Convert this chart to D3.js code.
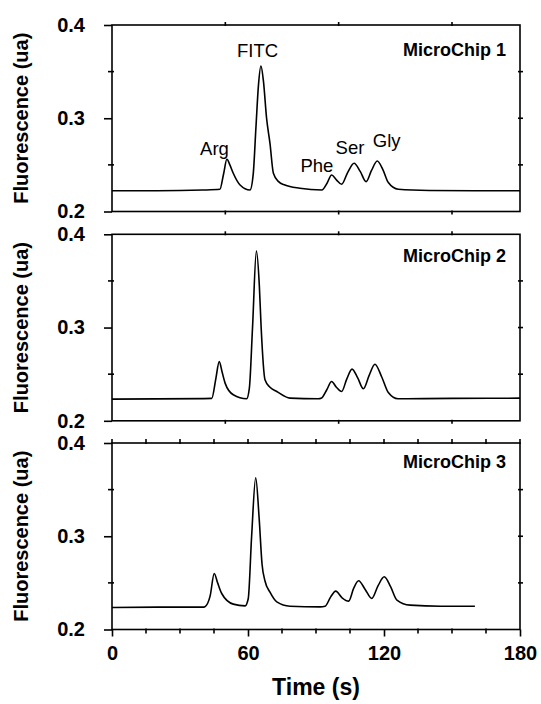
<!DOCTYPE html>
<html lang="en">
<head>
<meta charset="utf-8">
<script src="https://d3js.org/d3.v7.min.js"></script>
<title>MicroChip electropherograms</title>
<style>
  body { margin: 0; background: #fff; }
  svg { display: block; font-family: "Liberation Sans", Arial, sans-serif; }
  .frame { fill: none; stroke: #000; stroke-width: 1.6px; }
  .trace { fill: none; stroke: #000; stroke-width: 1.6px; stroke-linejoin: round; }
  .tk { stroke: #000; stroke-width: 1.6px; }
</style>
</head>
<body>
<svg id="chart" width="541" height="704"></svg>
<script>
// panel names
const chips = ["MicroChip 1", "MicroChip 2", "MicroChip 3"];

// traces: [time (s), fluorescence (ua)]
const chip1 = [
  [0, 0.2223], [20, 0.2222], [40, 0.2230], [47.6, 0.2238], [49.2, 0.240], [50.7, 0.256],
  [52, 0.250], [53.5, 0.241], [56.5, 0.2284], [60.9, 0.2230], [62.3, 0.240], [63.5, 0.290],
  [64.6, 0.335], [65.7, 0.356], [66.8, 0.340], [68.2, 0.300], [69.7, 0.273], [71.2, 0.241],
  [73.5, 0.232], [76.3, 0.2284], [82.9, 0.2249], [92.6, 0.2230], [94.8, 0.230], [96.9, 0.2391],
  [99, 0.234], [101.3, 0.2292], [104, 0.242], [106.8, 0.2517], [109.5, 0.243], [112.1, 0.232],
  [114.5, 0.244], [117.0, 0.2542], [119.5, 0.245], [121.9, 0.231], [126.3, 0.2238],
  [140, 0.2225], [160, 0.2222], [180, 0.2223]
];
const chip2 = [
  [0, 0.2232], [20, 0.2235], [40, 0.2238], [44, 0.2240], [45.8, 0.245], [47.3, 0.2635],
  [48.6, 0.252], [49.9, 0.2404], [53.5, 0.2279], [59.4, 0.2236], [60.6, 0.235], [62, 0.300],
  [63.7, 0.382], [65, 0.345], [65.8, 0.300], [67.5, 0.244], [69.7, 0.236], [72.7, 0.2314],
  [78.5, 0.2243], [90.9, 0.2236], [92.5, 0.2245], [94.7, 0.233], [96.9, 0.2421], [99, 0.236],
  [101.3, 0.2314], [103.6, 0.245], [105.9, 0.2554], [108.4, 0.246], [110.9, 0.2343],
  [113.5, 0.249], [116, 0.2607], [119, 0.247], [121.9, 0.2303], [126.2, 0.2236],
  [150, 0.2240], [180, 0.2243]
];
const chip3 = [
  [0, 0.2236], [20, 0.2240], [40, 0.2240], [41, 0.2245], [43.3, 0.236], [45.1, 0.2601],
  [46.6, 0.250], [48.4, 0.2386], [53.5, 0.2272], [58.7, 0.2253], [60.1, 0.233], [61.6, 0.300],
  [63.4, 0.3628], [64.9, 0.320], [66.2, 0.270], [67.5, 0.252], [69.7, 0.240], [72.7, 0.2296],
  [78.5, 0.225], [91.8, 0.2243], [94, 0.2250], [96.5, 0.235], [98.7, 0.2411], [101.5, 0.234],
  [104.4, 0.2304], [106.6, 0.244], [108.8, 0.2522], [111.7, 0.243], [114.6, 0.2333],
  [117.4, 0.247], [120.1, 0.2565], [122.9, 0.246], [125.7, 0.2315], [131.5, 0.2261],
  [145, 0.2250], [160.1, 0.225]
];

// peak labels on the first panel, anchored in data units
const peakNames = ["Arg", "FITC", "Phe", "Ser", "Gly"];
const peakAt = [[45.2, 0.2605], [64.2, 0.3654], [90.4, 0.2427], [105, 0.2613], [121.2, 0.2695]];

// ticks
const yTicks = [0.2, 0.3, 0.4];
const yMinor = [0.25, 0.35];
const yRight = [0.25, 0.3, 0.35];
const xTicks = [0, 60, 120, 180];
const xMinor = [15, 30, 45, 75, 90, 105, 135, 150, 165];
const xUpper = [50, 100, 150];

const svg = d3.select("#chart");
const left = 112, right = 520;
const panelTop = [25, 234.3, 443];
const panelH = 186.5;
const nameDy = [31, 27.5, 25];

const x = d3.scaleLinear().domain([0, 180]).range([left, right]);
const series = [chip1, chip2, chip3];

function styleTicks(a) {
  a.select(".domain").remove();
  a.selectAll("line").attr("class", "tk");
  a.selectAll("text")
    .style("font-family", "'Liberation Sans', Arial, sans-serif")
    .style("font-size", "20px").style("font-weight", "bold").attr("fill", "#000");
}

series.forEach(function (data, i) {
  const top = panelTop[i], bottom = top + panelH;
  const y = d3.scaleLinear().domain([0.2, 0.4]).range([bottom, top]);
  const g = svg.append("g");

  g.append("rect").attr("class", "frame")
    .attr("x", left).attr("y", top)
    .attr("width", right - left).attr("height", panelH);

  // left axis with labels
  g.append("g")
    .attr("transform", `translate(${left},0)`)
    .call(d3.axisLeft(y).tickValues(yTicks).tickSize(8).tickPadding(19).tickFormat(d3.format(".1f")))
    .call(styleTicks);

  g.selectAll(".ym").data(yMinor).join("line").attr("class", "tk")
    .attr("x1", left - 4).attr("x2", left + 2)
    .attr("y1", d => y(d)).attr("y2", d => y(d));

  g.selectAll(".yr").data(yRight).join("line").attr("class", "tk")
    .attr("x1", right - 2).attr("x2", right + 3)
    .attr("y1", d => y(d)).attr("y2", d => y(d));

  if (i < 2) {
    g.selectAll(".xt").data(xUpper).join("line").attr("class", "tk")
      .attr("x1", d => x(d)).attr("x2", d => x(d))
      .attr("y1", top - 3).attr("y2", top + 1);
    g.selectAll(".xb").data(xUpper).join("line").attr("class", "tk")
      .attr("x1", d => x(d)).attr("x2", d => x(d))
      .attr("y1", bottom - 1).attr("y2", bottom + 3);
  } else {
    g.selectAll(".xt").data(xTicks.concat(xMinor)).join("line").attr("class", "tk")
      .attr("x1", d => x(d)).attr("x2", d => x(d))
      .attr("y1", top - 4).attr("y2", top + 1);
    g.append("g")
      .attr("transform", `translate(0,${bottom})`)
      .call(d3.axisBottom(x).tickValues(xTicks).tickSize(7).tickPadding(9).tickFormat(d3.format("d")))
      .call(styleTicks);
    g.selectAll(".xm").data(xMinor).join("line").attr("class", "tk")
      .attr("x1", d => x(d)).attr("x2", d => x(d))
      .attr("y1", bottom - 1).attr("y2", bottom + 4);
  }

  // trace
  const line = d3.line().x(d => x(d[0])).y(d => y(d[1])).curve(d3.curveMonotoneX);
  g.append("path").attr("class", "trace").attr("d", line(data));

  // panel name
  g.append("text")
    .attr("x", 506).attr("y", top + nameDy[i])
    .attr("text-anchor", "end")
    .style("font-size", "18px").style("font-weight", "bold")
    .text(chips[i]);

  // y title
  g.append("text")
    .attr("transform", `translate(28,${top + panelH / 2}) rotate(-90)`)
    .attr("text-anchor", "middle")
    .style("font-size", "20px").style("font-weight", "bold")
    .text("Fluorescence (ua)");

  if (i === 0) {
    g.selectAll(".peak").data(peakNames).join("text")
      .attr("x", (d, k) => x(peakAt[k][0]))
      .attr("y", (d, k) => y(peakAt[k][1]))
      .attr("text-anchor", "middle")
      .style("font-size", "18.5px")
      .text(d => d);
  }
});

svg.append("text")
  .attr("x", (left + right) / 2).attr("y", 695)
  .attr("text-anchor", "middle")
  .style("font-size", "23px").style("font-weight", "bold")
  .text("Time (s)");
</script>
</body>
</html>
